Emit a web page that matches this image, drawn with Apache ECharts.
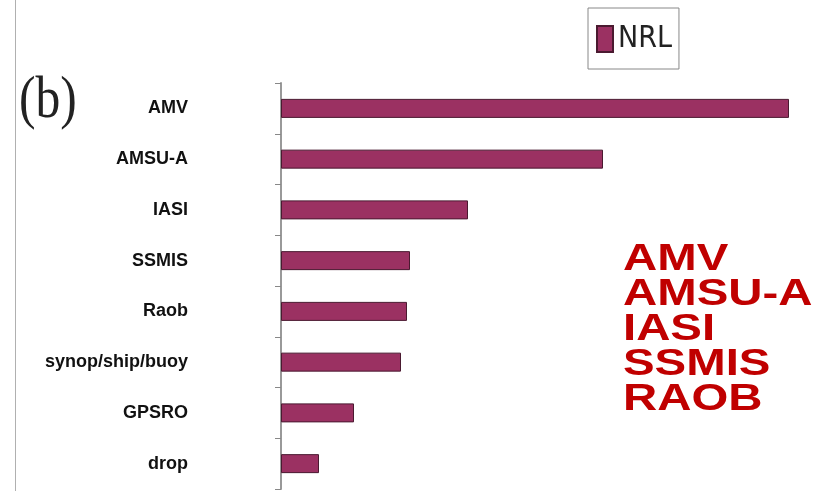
<!DOCTYPE html>
<html>
<head>
<meta charset="utf-8">
<script src="https://cdn.jsdelivr.net/npm/echarts@6/dist/echarts.min.js"></script>
<style>
  html, body { margin: 0; padding: 0; background: #fff; }
  #chart { width: 817px; height: 491px; }
</style>
</head>
<body>
<div id="chart"></div>
<script>
// Observation types, top to bottom
const categories = ['AMV', 'AMSU-A', 'IASI', 'SSMIS', 'Raob', 'synop/ship/buoy', 'GPSRO', 'drop'];
// NRL impact per observation type (relative units)
const nrlValues = [50.8, 32.2, 18.7, 12.9, 12.6, 12.0, 7.3, 3.8];
// Highlighted leading observation types
const highlights = ['AMV', 'AMSU-A', 'IASI', 'SSMIS', 'RAOB'];

const chart = echarts.init(document.getElementById('chart'));

const condensed = "'DejaVu Sans Condensed', 'Liberation Sans', sans-serif";

const graphics = [
  { type: 'line', shape: { x1: 15.5, y1: 0, x2: 15.5, y2: 491 }, style: { stroke: '#b0b0b0', lineWidth: 1 } },
  {
    type: 'text', x: 19, y: 101, scaleX: 0.84,
    style: { text: '(b)', font: '59px "Liberation Serif", serif', fill: '#222', textVerticalAlign: 'middle' }
  }
];
highlights.forEach((t, i) => {
  graphics.push({
    type: 'text', x: 623, y: 260 + i * 35, scaleX: 1.28,
    style: { text: t, font: 'bold 37px "Liberation Sans", Arial, sans-serif', fill: '#c00000', textVerticalAlign: 'middle' }
  });
});

chart.setOption({
  animation: false,
  grid: { left: 281, right: 16, top: 83, bottom: 2 },
  legend: {
    data: ['NRL'],
    left: 588, top: 8,
    padding: [16, 7, 15, 8],
    borderColor: '#888', borderWidth: 1,
    icon: 'rect',
    itemWidth: 16, itemHeight: 26,
    textStyle: { fontSize: 30, fontFamily: condensed, color: '#222' }
  },
  xAxis: { type: 'value', min: 0, max: 52, show: false },
  yAxis: {
    type: 'category',
    data: categories,
    inverse: true,
    axisLine: { lineStyle: { color: '#999', width: 2 } },
    axisTick: { show: true, length: 6, lineStyle: { color: '#888' } },
    axisLabel: {
      margin: 93,
      fontSize: 18, fontWeight: 'bold', fontFamily: "'Liberation Sans', Arial, sans-serif", color: '#111'
    }
  },
  series: [{
    name: 'NRL',
    type: 'bar',
    data: nrlValues,
    barWidth: 19,
    itemStyle: { color: '#9b3162', borderColor: '#4a1a30', borderWidth: 1 }
  }],
  graphic: graphics
});
</script>
</body>
</html>
